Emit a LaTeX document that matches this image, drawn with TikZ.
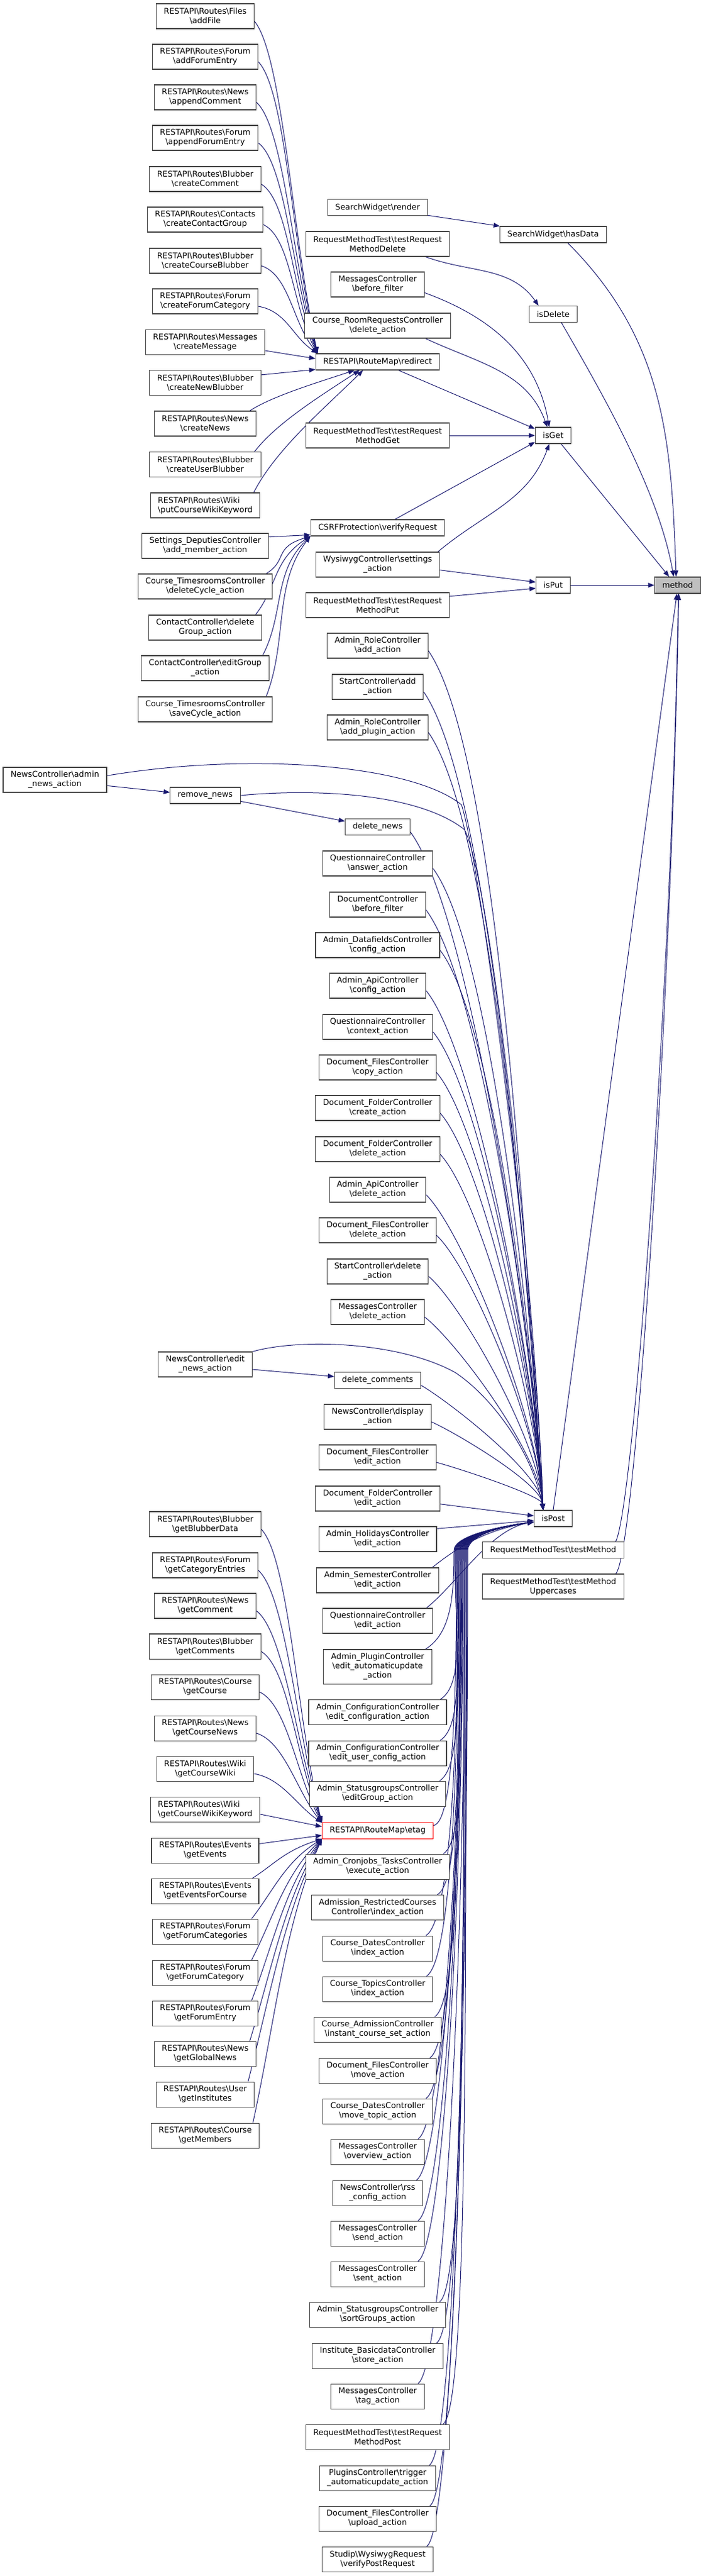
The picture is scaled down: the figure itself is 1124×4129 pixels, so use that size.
\documentclass[tikz,border=0pt]{standalone}
\usepackage{fontspec}
\setmainfont{DejaVu Sans}
\usetikzlibrary{arrows.meta}

\definecolor{edgeblue}{HTML}{191970}
\definecolor{boxline}{HTML}{444444}
\definecolor{focusgray}{HTML}{BFBFBF}
\newcommand{\bs}{\textbackslash}
\pgfdeclarelayer{edgelayer}
\pgfsetlayers{edgelayer,main}

\tikzset{
  fn/.style={draw=boxline, line width=0.8pt, fill=white, align=center,
    inner xsep=9pt, inner ysep=1pt, minimum height=30pt,
    font=\fontsize{9.6}{11.25}\selectfont},
  fnone/.style={fn, minimum height=19.5pt},
  fnthree/.style={fn, minimum height=41.25pt},
  call/.style={draw=edgeblue, line width=0.75pt,
    -{Triangle[length=7.5pt,width=5.6pt]}},
}

\begin{document}
\begin{tikzpicture}[x=0.75pt,y=-0.75pt]
\useasboundingbox (0,0) rectangle (1124,4129);

\node[fn] (af) at (329,26) {RESTAPI\bs Routes\bs Files\\\bs addFile};
\node[fn] (afe) at (329,91) {RESTAPI\bs Routes\bs Forum\\\bs addForumEntry};
\node[fn] (apc) at (329,156) {RESTAPI\bs Routes\bs News\\\bs appendComment};
\node[fn] (apf) at (329,221) {RESTAPI\bs Routes\bs Forum\\\bs appendForumEntry};
\node[fn] (cc) at (329,287) {RESTAPI\bs Routes\bs Blubber\\\bs createComment};
\node[fn] (ccg) at (329,352) {RESTAPI\bs Routes\bs Contacts\\\bs createContactGroup};
\node[fn] (ccb) at (329,418) {RESTAPI\bs Routes\bs Blubber\\\bs createCourseBlubber};
\node[fn] (cfc) at (329,483) {RESTAPI\bs Routes\bs Forum\\\bs createForumCategory};
\node[fn] (cm) at (329,548.5) {RESTAPI\bs Routes\bs Messages\\\bs createMessage};
\node[fn] (cnb) at (329,613.5) {RESTAPI\bs Routes\bs Blubber\\\bs createNewBlubber};
\node[fn] (cn) at (329,679) {RESTAPI\bs Routes\bs News\\\bs createNews};
\node[fn] (cub) at (329,744.5) {RESTAPI\bs Routes\bs Blubber\\\bs createUserBlubber};
\node[fn,align=left] (pcw) at (329,810) {RESTAPI\bs Routes\bs Wiki\\\bs putCourseWikiKeyword};
\node[fn] (sdm) at (329,875) {Settings\_DeputiesController\\\bs add\_member\_action};
\node[fn] (tdc) at (329,940) {Course\_TimesroomsController\\\bs deleteCycle\_action};
\node[fn] (cdg) at (329,1006) {ContactController\bs delete\\Group\_action};
\node[fn] (ceg) at (329,1071) {ContactController\bs editGroup\\\_action};
\node[fn] (tsc) at (329,1137) {Course\_TimesroomsController\\\bs saveCycle\_action};
\node[fn] (nan) at (88,1250) {NewsController\bs admin\\\_news\_action};
\node[fnone] (rn) at (329,1275) {remove\_news};
\node[fn] (nen) at (329,2187) {NewsController\bs edit\\\_news\_action};

\node[fn] (gbd) at (329,2443) {RESTAPI\bs Routes\bs Blubber\\\bs getBlubberData};
\node[fn] (gce) at (329,2509) {RESTAPI\bs Routes\bs Forum\\\bs getCategoryEntries};
\node[fn] (gcm) at (329,2574) {RESTAPI\bs Routes\bs News\\\bs getComment};
\node[fn] (gcms) at (329,2639) {RESTAPI\bs Routes\bs Blubber\\\bs getComments};
\node[fn] (gc) at (329,2704) {RESTAPI\bs Routes\bs Course\\\bs getCourse};
\node[fn] (gcn) at (329,2770) {RESTAPI\bs Routes\bs News\\\bs getCourseNews};
\node[fn] (gcw) at (329,2835) {RESTAPI\bs Routes\bs Wiki\\\bs getCourseWiki};
\node[fn,align=left] (gcwk) at (329,2900) {RESTAPI\bs Routes\bs Wiki\\\bs getCourseWikiKeyword};
\node[fn] (gev) at (329,2966) {RESTAPI\bs Routes\bs Events\\\bs getEvents};
\node[fn] (gevc) at (329,3031) {RESTAPI\bs Routes\bs Events\\\bs getEventsForCourse};
\node[fn] (gfcs) at (329,3096) {RESTAPI\bs Routes\bs Forum\\\bs getForumCategories};
\node[fn] (gfc) at (329,3162) {RESTAPI\bs Routes\bs Forum\\\bs getForumCategory};
\node[fn] (gfe) at (329,3227) {RESTAPI\bs Routes\bs Forum\\\bs getForumEntry};
\node[fn] (ggn) at (329,3292) {RESTAPI\bs Routes\bs News\\\bs getGlobalNews};
\node[fn] (gin) at (329,3357) {RESTAPI\bs Routes\bs User\\\bs getInstitutes};
\node[fn] (gmem) at (329,3423) {RESTAPI\bs Routes\bs Course\\\bs getMembers};

\node[fnone] (sr) at (605.5,332.5) {SearchWidget\bs render};
\node[fn] (tdel) at (605.5,391) {RequestMethodTest\bs testRequest\\MethodDelete};
\node[fn] (mbf) at (605.5,456) {MessagesController\\\bs before\_filter};
\node[fn] (crr) at (605.5,522) {Course\_RoomRequestsController\\\bs delete\_action};
\node[fnone] (rd) at (605.5,580) {RESTAPI\bs RouteMap\bs redirect};
\node[fn] (tget) at (605.5,698) {RequestMethodTest\bs testRequest\\MethodGet};
\node[fnone] (csrf) at (605.5,846) {CSRFProtection\bs verifyRequest};
\node[fn] (wys) at (605.5,905) {WysiwygController\bs settings\\\_action};
\node[fn] (tput) at (605.5,970) {RequestMethodTest\bs testRequest\\MethodPut};
\node[fn] (radd) at (605.5,1035) {Admin\_RoleController\\\bs add\_action};
\node[fn] (sadd) at (605.5,1101) {StartController\bs add\\\_action};
\node[fn] (rplug) at (605.5,1166) {Admin\_RoleController\\\bs add\_plugin\_action};
\node[fnone] (dn) at (605.5,1325.5) {delete\_news};
\node[fn] (qans) at (605.5,1384) {QuestionnaireController\\\bs answer\_action};
\node[fn] (dbf) at (605.5,1450) {DocumentController\\\bs before\_filter};
\node[fn] (dfc) at (605.5,1515) {Admin\_DatafieldsController\\\bs config\_action};
\node[fn] (apic) at (605.5,1580) {Admin\_ApiController\\\bs config\_action};
\node[fn] (qctx) at (605.5,1646) {QuestionnaireController\\\bs context\_action};
\node[fn] (fcopy) at (605.5,1711) {Document\_FilesController\\\bs copy\_action};
\node[fn] (fcreate) at (605.5,1776) {Document\_FolderController\\\bs create\_action};
\node[fn] (fdel) at (605.5,1842) {Document\_FolderController\\\bs delete\_action};
\node[fn] (apid) at (605.5,1907) {Admin\_ApiController\\\bs delete\_action};
\node[fn] (fidel) at (605.5,1972) {Document\_FilesController\\\bs delete\_action};
\node[fn] (sdel) at (605.5,2038) {StartController\bs delete\\\_action};
\node[fn] (mdel) at (605.5,2103) {MessagesController\\\bs delete\_action};
\node[fnone] (dc) at (605.5,2212.5) {delete\_comments};
\node[fn] (ndisp) at (605.5,2271) {NewsController\bs display\\\_action};
\node[fn] (fiedit) at (605.5,2336) {Document\_FilesController\\\bs edit\_action};
\node[fn] (foedit) at (605.5,2402) {Document\_FolderController\\\bs edit\_action};
\node[fn] (hol) at (605.5,2467) {Admin\_HolidaysController\\\bs edit\_action};
\node[fn] (sem) at (605.5,2533) {Admin\_SemesterController\\\bs edit\_action};
\node[fn] (qedit) at (605.5,2598) {QuestionnaireController\\\bs edit\_action};
\node[fnthree] (plug) at (605.5,2671.5) {Admin\_PluginController\\\bs edit\_automaticupdate\\\_action};
\node[fn] (confc) at (605.5,2744.5) {Admin\_ConfigurationController\\\bs edit\_configuration\_action};
\node[fn] (confu) at (605.5,2810) {Admin\_ConfigurationController\\\bs edit\_user\_config\_action};
\node[fn] (sge) at (605.5,2875) {Admin\_StatusgroupsController\\\bs editGroup\_action};
\node[fnone,draw=red] (etag) at (605.5,2934) {RESTAPI\bs RouteMap\bs etag};
\node[fn] (cron) at (605.5,2992) {Admin\_Cronjobs\_TasksController\\\bs execute\_action};
\node[fn] (arc) at (605.5,3057.5) {Admission\_RestrictedCourses\\Controller\bs index\_action};
\node[fn] (dix) at (605.5,3123) {Course\_DatesController\\\bs index\_action};
\node[fn] (tix) at (605.5,3188) {Course\_TopicsController\\\bs index\_action};
\node[fn] (ics) at (605.5,3253) {Course\_AdmissionController\\\bs instant\_course\_set\_action};
\node[fn] (fmove) at (605.5,3319) {Document\_FilesController\\\bs move\_action};
\node[fn] (dmt) at (605.5,3384) {Course\_DatesController\\\bs move\_topic\_action};
\node[fn] (mov) at (605.5,3449) {MessagesController\\\bs overview\_action};
\node[fn] (rss) at (605.5,3515) {NewsController\bs rss\\\_config\_action};
\node[fn] (msend) at (605.5,3580) {MessagesController\\\bs send\_action};
\node[fn] (msent) at (605.5,3645) {MessagesController\\\bs sent\_action};
\node[fn] (sgs) at (605.5,3710) {Admin\_StatusgroupsController\\\bs sortGroups\_action};
\node[fn] (ibs) at (605.5,3776) {Institute\_BasicdataController\\\bs store\_action};
\node[fn] (mtag) at (605.5,3841) {MessagesController\\\bs tag\_action};
\node[fn] (tpost) at (605.5,3906) {RequestMethodTest\bs testRequest\\MethodPost};
\node[fn] (ptrig) at (605.5,3972) {PluginsController\bs trigger\\\_automaticupdate\_action};
\node[fn] (fup) at (605.5,4037) {Document\_FilesController\\\bs upload\_action};
\node[fn] (wvp) at (605.5,4102) {Studip\bs WysiwygRequest\\\bs verifyPostRequest};

\node[fnone] (hd) at (887,376) {SearchWidget\bs hasData};
\node[fnone] (isd) at (887,503.5) {isDelete};
\node[fnone] (isg) at (887,698) {isGet};
\node[fnone] (isp) at (887,938) {isPut};
\node[fnone] (ispo) at (887,2434) {isPost};
\node[fnone,fill=focusgray] (mth) at (1086.5,938) {method};
\node[fnone] (tm) at (887,2484.5) {RequestMethodTest\bs testMethod};
\node[fn] (tmu) at (887,2543) {RequestMethodTest\bs testMethod\\Uppercases};

\begin{pgfonlayer}{edgelayer}
\foreach \x/\y in {af/26,afe/91,apc/156,apf/221,cc/287,ccg/352,ccb/418,cfc/483}
  \draw[call] ([yshift=-6pt]\x.east) .. controls +(45,{0.1*(559-\y)}) and +(-40,{-0.35*(559-\y)}) .. (rd.172);
\draw[call] (cm.-8) -- (rd.177);
\draw[call] (cnb.8) -- (rd.187);
\foreach \x/\t/\e in {cn/659/200,cub/724/205,pcw/790/210}
  \draw[call] ([xshift=-8pt]\x.north east) .. controls +(35,{-0.35*(\t-593)}) and +(-60,{0.3*(\t-593)}) .. (rd.\e);

\draw[call] (sdm.8) -- (csrf.186);
\foreach \x/\t in {tdc/920,cdg/986,ceg/1051,tsc/1117}
  \draw[call] ([xshift=-8pt]\x.north east) .. controls +(35,{-0.35*(\t-859)}) and +(-60,{0.3*(\t-859)}) .. (csrf.south west);

\draw[call] (sr.-9) -- (hd.171);
\draw[call] (tdel.-15) to[out=-20,in=125] (isd.150);
\draw[call] (mbf.-10) to[out=-20,in=100] (isg.115);
\draw[call] (crr.-15) to[out=-25,in=110] (isg.125);
\draw[call] (rd.-22) -- (isg.160);
\draw[call] (tget.east) -- (isg.west);
\draw[call] (csrf.26) -- (isg.200);
\draw[call] (wys.12) to[out=40,in=-110] (isg.-115);
\draw[call] (wys.-5) -- (isp.170);
\draw[call] (tput.7) -- (isp.190);
\draw[call] (isp.east) -- (mth.west);
\draw[call] (isg.-47) -- (mth.135);
\draw[call] (isd.-46) to[out=-60,in=100,looseness=0.8] (mth.115);
\draw[call] (hd.-30) to[out=-45,in=92] (mth.100);
\draw[call] (ispo.north) -- (mth.-95);
\draw[call] ([xshift=-10pt]tm.north east) .. controls +(30,-60) and +(-10,600) .. (mth.-85);
\draw[call] ([xshift=-10pt]tmu.north east) .. controls +(32,-30) and +(-12,650) .. (mth.-82);

\draw[call] ([yshift=-7pt]nan.east) -- (rn.175);
\draw[call] ([yshift=-7pt]rn.east) -- (dn.170);
\draw[call] ([yshift=-6pt]nen.east) -- (dc.175);
\draw[call] ([yshift=5pt]nan.east) .. controls (400,1205) and (660,1225) .. (740,1290)
  .. controls (775,1400) and (860,2100) .. (ispo.140);
\draw[call] (rn.east) .. controls (500,1264) and (670,1270) .. (745,1330)
  .. controls (790,1420) and (860,2100) .. (ispo.140);
\draw[call] (nen.north east) .. controls (480,2145) and (640,2150) .. (730,2200)
  .. controls (790,2240) and (855,2330) .. (ispo.140);

\foreach \x/\y in {radd/1035,sadd/1101,rplug/1166,dn/1325,qans/1384,dbf/1450,dfc/1515,apic/1580,qctx/1646,fcopy/1711,fcreate/1776,fdel/1842,apid/1907,fidel/1972,sdel/2038,mdel/2103,dc/2212,ndisp/2271,fiedit/2336}
  \draw[call] ([yshift=-6pt]\x.east) .. controls +({30+0.06*(2413-\y)},{0.12*(2413-\y)}) and +({-0.02*(2413-\y)},{-0.3*(2413-\y)}) .. (ispo.140);
\draw[call] (foedit.-5) -- (ispo.172);
\draw[call] (hol.10) -- (ispo.186);
\foreach \x in {sem,qedit}
  \draw[call] ([xshift=-8pt]\x.north east) .. controls +(50,-40) and +(-70,12) .. (ispo.190);
\foreach \x/\t/\b in {plug/2644/728,confc/2724/729,confu/2790/730,sge/2855/731,cron/2972/733,arc/3037/734,dix/3103/735,tix/3168/736,ics/3233/737,fmove/3299/738,dmt/3364/739,mov/3429/740,rss/3495/741,msend/3560/742,msent/3625/743,sgs/3690/744,ibs/3756/745,mtag/3821/746,tpost/3886/747,ptrig/3952/748,fup/4017/749,wvp/4082/750}
  \draw[call] ([xshift=-8pt]\x.north east) .. controls +(40,-25) and +(0,{0.5*(\t-2485)}) .. (\b,2485)
    .. controls +(0,-25) and +(-45,6) .. (ispo.190);
\draw[call] ([yshift=6pt]etag.east) .. controls +(35,-5) and +(0,200) .. (732,2485)
  .. controls +(0,-25) and +(-45,6) .. (ispo.190);

\foreach \x/\y in {gbd/2443,gce/2509,gcm/2574,gcms/2639,gc/2704,gcn/2770,gcw/2835}
  \draw[call] ([yshift=-6pt]\x.east) .. controls +(45,{0.1*(2913-\y)}) and +(-40,{-0.35*(2913-\y)}) .. (etag.172);
\draw[call] ([yshift=-6pt]gcwk.east) -- (etag.176);
\draw[call] ([yshift=8pt]gev.east) -- (etag.185);
\foreach \x/\t in {gevc/3011,gfcs/3076,gfc/3142,gfe/3207,ggn/3272,gin/3337,gmem/3403}
  \draw[call] ([xshift=-8pt]\x.north east) .. controls +(35,{-0.35*(\t-2947)}) and +(-60,{0.3*(\t-2947)}) .. (etag.south west);
\end{pgfonlayer}
\end{tikzpicture}
\end{document}
